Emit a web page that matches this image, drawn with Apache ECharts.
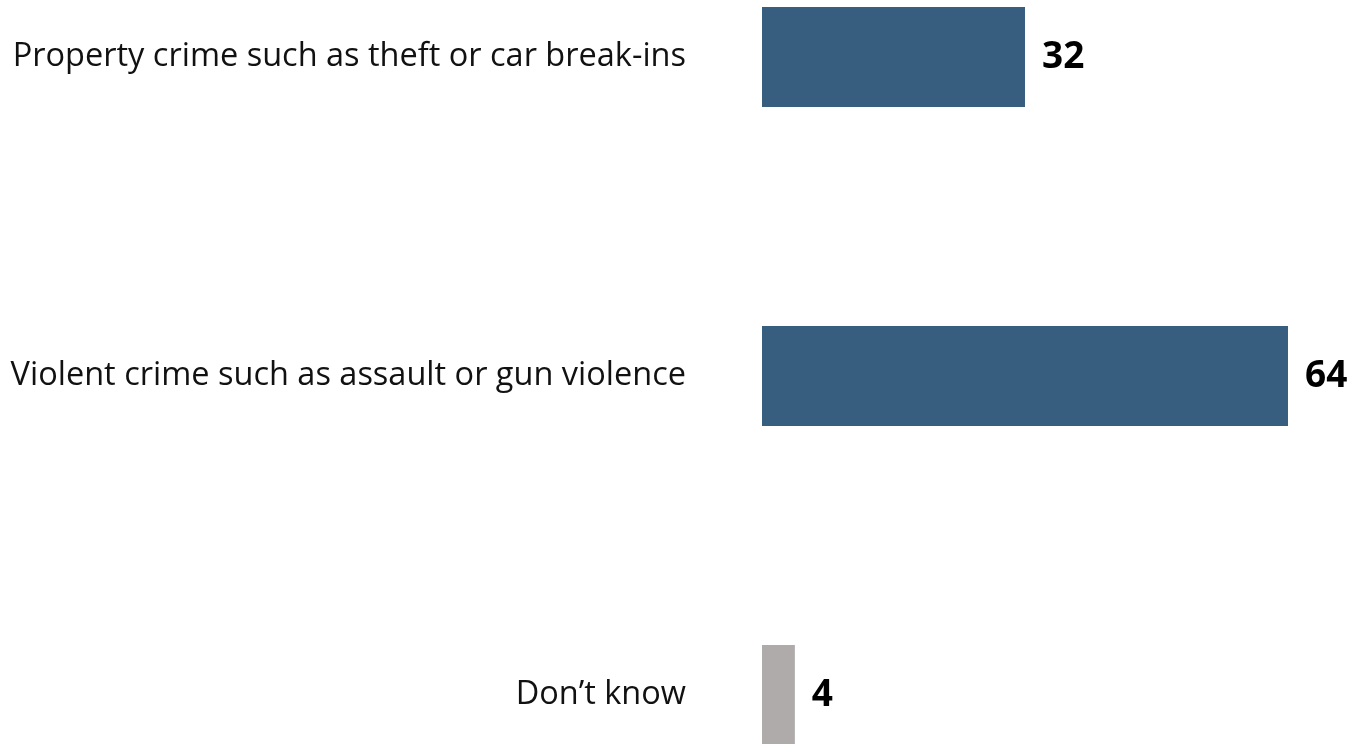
<!DOCTYPE html>
<html>
<head>
<meta charset="utf-8">
<script src="https://cdn.jsdelivr.net/npm/echarts@6/dist/echarts.min.js"></script>
<style>
html,body{margin:0;padding:0;background:#fff;}
#chart{width:1348px;height:744px;}
</style>
</head>
<body>
<div id="chart"></div>
<script>
const categories = [
  "Property crime such as theft or car break-ins",
  "Violent crime such as assault or gun violence",
  "Don\u2019t know"
];
const values = [32, 64, 4];
const barColors = ["#375e7e", "#375e7e", "#b0abab"];

const chart = echarts.init(document.getElementById('chart'));
chart.setOption({
  animation: false,
  backgroundColor: '#ffffff',
  grid: { left: 762, right: 10.7, top: 57, height: 638, containLabel: false },
  xAxis: {
    type: 'value', min: 0, max: 70, show: false
  },
  yAxis: {
    type: 'category',
    inverse: true,
    boundaryGap: false,
    data: categories,
    axisLine: { show: false },
    axisTick: { show: false },
    splitLine: { show: false },
    axisLabel: {
      margin: 76,
      color: '#111111',
      fontFamily: 'Open Sans',
      fontSize: 32.5,
      align: 'right'
    }
  },
  series: [{
    type: 'bar',
    barWidth: 100,
    clip: false,
    data: values.map((v, i) => ({ value: v, itemStyle: { color: barColors[i] } })),
    label: {
      show: true,
      position: 'right',
      distance: 17,
      color: '#000000',
      fontFamily: 'Open Sans',
      fontWeight: 'bold',
      fontSize: 37
    }
  }]
});
</script>
</body>
</html>
